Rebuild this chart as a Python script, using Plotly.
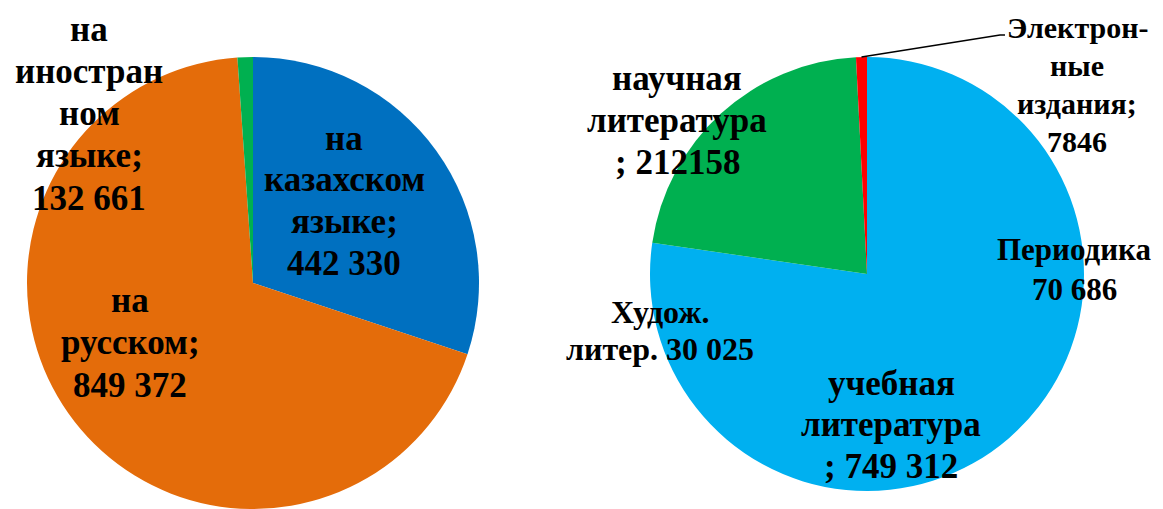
import math
import plotly.graph_objects as go

# ---------------- data ----------------
# Left pie: publications by language (slice shares as drawn, %)
lang_names = ["на казахском языке", "на русском", "на иностранном языке"]
lang_share_pct = [30.1, 68.8, 1.1]
lang_label_text = ["на<br>казахском<br>языке;<br>442 330",
                   "на<br>русском;<br>849 372",
                   "на<br>иностран<br>ном<br>языке;<br>132 661"]
lang_colors = ["#0070C0", "#E46C0A", "#00B050"]

# Right pie: publications by type
lit_names = ["учебная литература", "научная литература", "Электронные издания"]
lit_values = [749312, 212158, 7846]
lit_label_text = ["учебная<br>литература<br>; 749 312",
                  "научная<br>литература<br>; 212158",
                  "Электрон-<br>ные<br>издания;<br>7846"]
lit_colors = ["#00B0F0", "#00B050", "#FF0000"]

# Extra text boxes placed on the right pie
extra_text = ["Периодика<br>70 686", "Худож.<br>литер. 30 025"]

# ---------------- figure ----------------
PAGE_OFF = 8            # default body margin of the html page
W, H = 1163 - PAGE_OFF, 509 - PAGE_OFF


def px(x):
    """page pixel x -> paper x"""
    return (x - PAGE_OFF) / W


def py(y):
    """page pixel y (from top) -> paper y"""
    return 1 - (y - PAGE_OFF) / H


fig = go.Figure()

# left pie: centre (253, 283), radius 226 (page pixels)
fig.add_trace(go.Pie(
    labels=lang_names, values=lang_share_pct, sort=False,
    direction="clockwise", rotation=0, textinfo="none",
    marker=dict(colors=lang_colors, line=dict(width=0)),
    domain=dict(x=[px(27), px(479)], y=[max(0, py(509)), py(57)]),
    showlegend=False, hole=0,
))

# right pie: centre (867, 274), radius 217
fig.add_trace(go.Pie(
    labels=lit_names, values=lit_values, sort=False,
    direction="clockwise", rotation=0, textinfo="none",
    marker=dict(colors=lit_colors, line=dict(width=0)),
    domain=dict(x=[px(650), px(1084)], y=[py(491), py(57)]),
    showlegend=False, hole=0,
))

FONT = "Liberation Serif"


def add_block(text, cx, c1, pitch, fs):
    for i, line in enumerate(text.split("<br>")):
        fig.add_annotation(
            x=px(cx), y=py(c1 + i * pitch), xref="paper", yref="paper",
            text="<b>%s</b>" % line, showarrow=False,
            xanchor="center", yanchor="middle",
            font=dict(family=FONT, size=fs, color="black"),
        )


# label block placement (centre x, first line centre y, line pitch, size)
lang_pos = [(344, 138, 42, 35), (130, 300, 42.5, 35), (89, 29, 42.3, 35)]
lit_pos = [(891, 383, 41.5, 35), (677, 79, 42, 35), (1077, 28, 38, 30)]
extra_pos = [(1074, 249, 40, 31), (660, 312, 37, 32)]

for t, p in zip(lang_label_text, lang_pos):
    add_block(t, *p)
for t, p in zip(lit_label_text, lit_pos):
    add_block(t, *p)
for t, p in zip(extra_text, extra_pos):
    add_block(t, *p)

# leader line for the small red slice (from the slice's mid-angle on the rim)
total = sum(lit_values)
start_frac = sum(lit_values[:2]) / total
mid_ang = 2 * math.pi * (start_frac + lit_values[2] / total / 2)
cx_r, cy_r, r_r = 867, 274, 217
sx = cx_r + r_r * math.sin(mid_ang)
sy = cy_r - r_r * math.cos(mid_ang)
fig.add_shape(
    type="path", xref="paper", yref="paper",
    path="M %f %f L %f %f L %f %f" % (px(sx), py(sy), px(1000), py(35), px(1005), py(35)),
    line=dict(color="black", width=1.5),
)

fig.update_layout(
    width=W, height=H,
    margin=dict(l=0, r=0, t=0, b=0),
    paper_bgcolor="white", plot_bgcolor="white",
    showlegend=False,
)

fig.write_html("out.html")
